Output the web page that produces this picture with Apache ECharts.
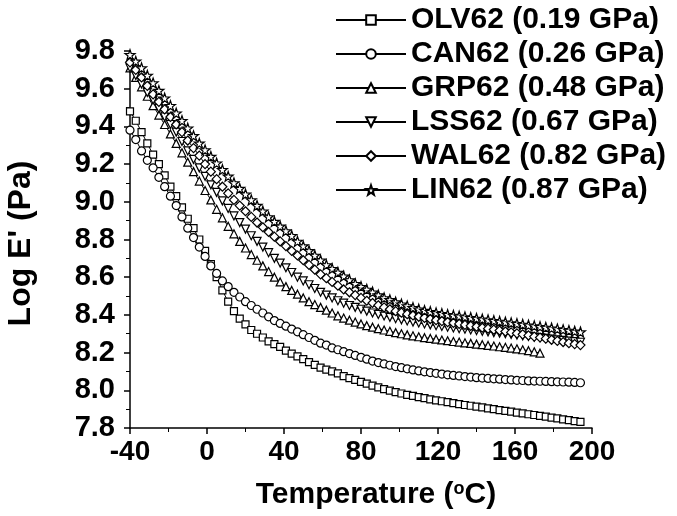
<!DOCTYPE html>
<html>
<head>
<meta charset="utf-8">
<script src="https://cdn.jsdelivr.net/npm/echarts@6/dist/echarts.min.js"></script>
<style>html,body{margin:0;padding:0;background:#fff;}#chart{width:677px;height:516px;}</style>
</head>
<body>
<div id="chart"></div>
<script>
// Temperature (°C) sample points
const temps = [-40,-37,-34,-31,-28,-25,-22,-19,-16,-13,-10,-7,-4,-1,2,5,8,11,14,17,20,23,26,29,32,35,38,41,44,47,50,53,56,59,62,65,68,71,74,77,80,83,86,89,92,95,98,101,104,107,110,113,116,119,122,125,128,131,134,137,140,143,146,149,152,155,158,161,164,167,170,173,176,179,182,185,188,191,194];

const seriesNames = ['OLV62 (0.19 GPa)','CAN62 (0.26 GPa)','GRP62 (0.48 GPa)','LSS62 (0.67 GPa)','WAL62 (0.82 GPa)','LIN62 (0.87 GPa)'];

const olv = [9.48,9.43,9.37,9.31,9.25,9.20,9.14,9.08,9.03,8.97,8.91,8.86,8.80,8.74,8.67,8.60,8.53,8.47,8.42,8.38,8.35,8.32,8.30,8.28,8.26,8.245,8.23,8.21,8.195,8.18,8.165,8.15,8.135,8.12,8.11,8.10,8.09,8.075,8.065,8.055,8.045,8.035,8.025,8.015,8.006,7.998,7.99,7.983,7.976,7.97,7.964,7.958,7.952,7.947,7.942,7.937,7.932,7.927,7.922,7.918,7.913,7.909,7.904,7.9,7.895,7.891,7.887,7.882,7.878,7.873,7.869,7.864,7.86,7.855,7.851,7.846,7.842,7.837,7.833];

const can = [9.38,9.33,9.27,9.22,9.18,9.13,9.08,9.03,8.98,8.92,8.86,8.81,8.76,8.71,8.66,8.62,8.58,8.55,8.52,8.495,8.47,8.45,8.43,8.41,8.39,8.37,8.355,8.34,8.325,8.31,8.295,8.28,8.265,8.25,8.24,8.225,8.215,8.205,8.195,8.185,8.175,8.165,8.155,8.147,8.14,8.133,8.126,8.12,8.114,8.108,8.103,8.098,8.094,8.09,8.086,8.082,8.079,8.076,8.073,8.07,8.067,8.065,8.063,8.061,8.059,8.057,8.055,8.053,8.052,8.05,8.049,8.048,8.047,8.046,8.045,8.044,8.043,8.042,8.04];

const grp = [9.71,9.66,9.61,9.56,9.51,9.46,9.41,9.36,9.31,9.26,9.21,9.16,9.11,9.06,9.01,8.96,8.915,8.87,8.83,8.79,8.755,8.72,8.69,8.66,8.63,8.60,8.575,8.55,8.53,8.51,8.49,8.47,8.455,8.44,8.425,8.41,8.395,8.383,8.372,8.362,8.352,8.343,8.335,8.327,8.32,8.313,8.306,8.30,8.294,8.289,8.284,8.279,8.275,8.271,8.267,8.263,8.259,8.256,8.252,8.249,8.245,8.242,8.238,8.235,8.231,8.228,8.224,8.22,8.215,8.21,8.204,8.197];

const lss = [9.71,9.67,9.625,9.58,9.54,9.495,9.45,9.41,9.37,9.32,9.27,9.225,9.18,9.135,9.09,9.05,9.005,8.965,8.925,8.89,8.855,8.82,8.79,8.76,8.73,8.70,8.675,8.65,8.625,8.60,8.58,8.56,8.54,8.52,8.505,8.49,8.475,8.462,8.45,8.44,8.43,8.42,8.41,8.402,8.394,8.387,8.38,8.374,8.368,8.362,8.357,8.352,8.347,8.343,8.339,8.335,8.331,8.327,8.324,8.32,8.317,8.313,8.31,8.306,8.303,8.30,8.296,8.293,8.289,8.286,8.282,8.279,8.275,8.272,8.268,8.265,8.261,8.258,8.255];

const wal = [9.74,9.70,9.66,9.615,9.57,9.53,9.49,9.45,9.41,9.37,9.325,9.285,9.245,9.20,9.16,9.12,9.08,9.045,9.01,8.98,8.95,8.92,8.89,8.865,8.84,8.815,8.79,8.765,8.74,8.715,8.69,8.665,8.64,8.615,8.595,8.575,8.555,8.535,8.52,8.505,8.49,8.475,8.463,8.451,8.44,8.43,8.42,8.412,8.404,8.397,8.39,8.384,8.378,8.372,8.367,8.362,8.357,8.352,8.347,8.342,8.337,8.332,8.327,8.322,8.317,8.312,8.307,8.302,8.297,8.291,8.285,8.28,8.274,8.268,8.262,8.256,8.25,8.245,8.24];

const lin = [9.78,9.745,9.71,9.67,9.63,9.59,9.55,9.51,9.47,9.43,9.39,9.35,9.31,9.275,9.24,9.205,9.17,9.135,9.10,9.07,9.04,9.01,8.98,8.95,8.92,8.895,8.87,8.845,8.82,8.79,8.765,8.74,8.715,8.69,8.665,8.645,8.625,8.605,8.585,8.565,8.55,8.535,8.52,8.505,8.49,8.48,8.468,8.457,8.447,8.438,8.43,8.423,8.417,8.411,8.406,8.401,8.397,8.393,8.389,8.385,8.381,8.377,8.373,8.369,8.365,8.361,8.357,8.353,8.349,8.345,8.341,8.337,8.333,8.329,8.325,8.321,8.317,8.313,8.309];

const xTicks = [-40,0,40,80,120,160,200];
const yTicks = [7.8,8.0,8.2,8.4,8.6,8.8,9.0,9.2,9.4,9.6,9.8];

const starPath = 'path://M0,-10L2.35,-3.24L9.51,-3.09L3.8,1.24L5.88,8.09L0,4L-5.88,8.09L-3.8,1.24L-9.51,-3.09L-2.35,-3.24Z';
const seriesValues = [olv, can, grp, lss, wal, lin];
const symbols = ['rect','circle','triangle','triangle','diamond',starPath];
const rotates = [0,0,0,180,0,0];
const sizes = [7,8,8,8,9,10];

const FONT = '"Liberation Sans", Arial, sans-serif';

const chart = echarts.init(document.getElementById('chart'), null, {renderer:'canvas'});
const series = seriesValues.map((vals, i) => ({
  name: seriesNames[i],
  type: 'line',
  data: vals.map((v, j) => [temps[j], v]),
  symbol: symbols[i],
  symbolRotate: rotates[i],
  symbolSize: sizes[i],
  showAllSymbol: true,
  animation: false,
  lineStyle: {color:'#000', width:1},
  itemStyle: {color:'#fff', borderColor:'#000', borderWidth:1.2},
  emphasis: {disabled:true},
  z: 2 + i
}));

chart.setOption({
  animation: false,
  backgroundColor: '#fff',
  grid: {left:130, right:85, top:51, bottom:88, containLabel:false, outerBoundsMode:'none'},
  legend: {
    orient: 'vertical',
    left: 330,
    top: 0,
    itemWidth: 70,
    itemHeight: 12,
    itemGap: 4,
    selectedMode: false,
    textStyle: {fontFamily: FONT, fontWeight:'bold', fontSize:30, color:'#000', lineHeight:30},
    data: seriesNames
  },
  xAxis: {
    type: 'value',
    min: -40, max: 200, interval: 40,
    axisLine: {show:true, onZero:false, lineStyle:{color:'#000', width:1.5}},
    axisTick: {show:true, inside:false, length:6, lineStyle:{color:'#000', width:1.5}},
    minorTick: {show:true, splitNumber:2, length:4, lineStyle:{color:'#000', width:1}},
    splitLine: {show:false},
    axisLabel: {color:'#000', fontFamily:FONT, fontWeight:'bold', fontSize:28, margin:10,
      formatter: v => xTicks.includes(v) ? String(v) : ''},
    name: 'Temperature ({sup|o}C)',
    nameLocation: 'middle',
    nameGap: 52,
    nameTextStyle: {color:'#000', fontFamily:FONT, fontWeight:'bold', fontSize:30, padding:[0,0,0,30],
      rich: {sup: {fontFamily:FONT, fontWeight:'bold', fontSize:18, verticalAlign:'top', padding:[0,0,12,0], color:'#000'}}}
  },
  yAxis: {
    type: 'value',
    min: 7.8, max: 9.8, interval: 0.2,
    axisLine: {show:true, onZero:false, lineStyle:{color:'#000', width:1.5}},
    axisTick: {show:true, inside:false, length:6, lineStyle:{color:'#000', width:1.5}},
    minorTick: {show:true, splitNumber:2, length:4, lineStyle:{color:'#000', width:1}},
    splitLine: {show:false},
    axisLabel: {color:'#000', fontFamily:FONT, fontWeight:'bold', fontSize:29, margin:15,
      formatter: v => v.toFixed(1)},
    name: "Log E' (Pa)",
    nameLocation: 'middle',
    nameGap: 93,
    nameTextStyle: {color:'#000', fontFamily:FONT, fontWeight:'bold', fontSize:32, padding:[0,8,0,0]}
  },
  series: series
});
</script>
</body>
</html>
